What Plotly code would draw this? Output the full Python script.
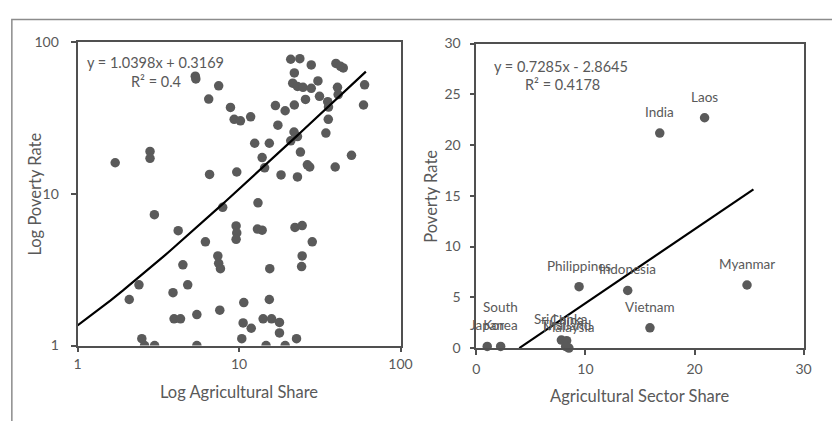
import numpy as np
import plotly.graph_objects as go

# ---------------- Data ----------------
# Left panel: log-log scatter (agricultural share vs poverty rate)
log_ag_share = [1.71, 2.81, 2.81, 2.99, 2.40, 2.09, 2.5, 2.6, 3.0, 3.9, 3.96, 4.34, 4.2, 4.49, 4.81,
                5.36, 5.4, 5.48, 5.48, 6.19, 6.49, 6.57, 7.48, 7.39, 7.48, 7.67, 7.92, 7.6, 8.85,
                9.33, 10.2, 9.68, 9.59, 9.68, 9.59, 10.7, 10.6, 10.4, 11.9, 11.8, 12.5, 13.1, 13.0,
                13.9, 13.9, 14.4, 14.1, 15.9, 14.7, 15.4, 15.5, 15.4, 16.8, 17.4, 17.8, 17.8, 18.2,
                19.3, 19.3, 20.9, 23.8, 22.0, 21.5, 22.0, 23.0, 24.9, 28.0, 28.0, 30.8, 25.8, 31.5,
                20.9, 21.9, 23.0, 23.0, 24.0, 26.5, 27.4, 22.2, 24.6, 24.6, 24.4, 28.4, 22.7, 34.5,
                35.7, 35.4, 35.8, 39.8, 44.2, 40.7, 41.1, 39.4, 49.7, 59.9, 59.0, 42.5]
log_poverty = [16.0, 19.0, 17.1, 7.28, 2.51, 2.01, 1.11, 1.0, 1.0, 2.23, 1.50, 1.50, 5.71, 3.40, 2.51,
               59.5, 57.0, 1.60, 1.0, 4.82, 42.0, 13.4, 51.4, 3.89, 3.48, 3.21, 8.14, 1.71, 37.0,
               30.9, 30.2, 13.9, 6.14, 5.52, 5.01, 1.92, 1.41, 1.11, 1.30, 32.1, 21.5, 8.71, 5.85,
               5.75, 17.3, 14.8, 1.50, 1.50, 1.0, 21.5, 3.21, 2.01, 38.1, 28.3, 1.42, 1.21, 13.3,
               35.2, 1.0, 76.9, 77.6, 62.5, 53.5, 38.4, 50.9, 50.2, 49.5, 70.5, 55.3, 41.8, 43.8,
               22.3, 25.5, 23.8, 12.9, 18.8, 15.5, 15.0, 6.0, 6.17, 3.89, 3.31, 4.82, 1.11, 25.1,
               30.9, 40.4, 37.2, 72.2, 67.4, 50.2, 45.0, 15.0, 17.9, 52.2, 38.4, 69.0]
left_slope, left_intercept = 1.0398, 0.3169
left_trend_range = [1.0, 61.0]

# Right panel: Asian countries
countries = ["Japan", "South<br>Korea", "Sri Lanka", "China", "Thailand", "Malaysia",
             "Philippines", "Indonesia", "Vietnam", "India", "Laos", "Myanmar"]
ag_share = [0.99, 2.22, 7.79, 8.27, 8.18, 8.48, 9.41, 13.87, 15.91, 16.81, 20.92, 24.81]
poverty = [0.16, 0.16, 0.79, 0.72, 0.16, 0.0, 6.05, 5.67, 1.99, 21.18, 22.69, 6.21]
right_slope, right_intercept = 0.7285, -2.8645
right_trend_range = [3.93, 25.4]

left_ticks = [1, 10, 100]
right_ticks = [0, 5, 10, 15, 20, 25, 30]
right_xticks = [0, 10, 20, 30]

# ---------------- Styling ----------------
FONT = "Lato"
GREY = "#595959"
AXIS = "#505050"
W, H = 832, 421

fig = go.Figure()

# left scatter
fig.add_trace(go.Scatter(x=log_ag_share, y=log_poverty, mode="markers",
                         marker=dict(size=9.5, color="#5a5a5a"),
                         xaxis="x", yaxis="y", showlegend=False))
lx = np.linspace(left_trend_range[0], left_trend_range[1], 200)
fig.add_trace(go.Scatter(x=lx, y=left_slope * lx + left_intercept, mode="lines",
                         line=dict(color="black", width=2.2),
                         xaxis="x", yaxis="y", showlegend=False))

# right scatter
fig.add_trace(go.Scatter(x=ag_share, y=poverty, mode="markers",
                         marker=dict(size=9.5, color="#5a5a5a"),
                         xaxis="x2", yaxis="y2", showlegend=False, cliponaxis=False))
rx = np.array(right_trend_range)
fig.add_trace(go.Scatter(x=rx, y=right_slope * rx + right_intercept, mode="lines",
                         line=dict(color="black", width=2.2),
                         xaxis="x2", yaxis="y2", showlegend=False))

def px_x(p):
    return p / W

def px_y(p):
    return 1 - p / H

axis_common = dict(showgrid=False, zeroline=False, showline=True, linecolor=AXIS, linewidth=1.8,
                   mirror=True, ticks="outside", ticklen=5, tickcolor=AXIS, tickwidth=1.5,
                   tickfont=dict(family=FONT, size=14, color=GREY))

fig.update_layout(
    width=W, height=H, margin=dict(l=0, r=0, t=0, b=0),
    paper_bgcolor="white", plot_bgcolor="white",
    xaxis=dict(type="log", range=[0, 2], domain=[px_x(75), px_x(404.3)], anchor="y",
               tickvals=left_ticks, ticktext=[str(t) for t in left_ticks],
               ticklabelstandoff=0, **axis_common),
    yaxis=dict(type="log", range=[0, 2], domain=[px_y(350.7), px_y(34.3)], anchor="x",
               tickvals=left_ticks, ticktext=[str(t) for t in left_ticks],
               ticklabelstandoff=9, **axis_common),
    xaxis2=dict(range=[0, 30], domain=[px_x(481.7), px_x(815.3)], anchor="y2",
                tickvals=right_xticks, ticklabelstandoff=2, **axis_common),
    yaxis2=dict(range=[0, 30], domain=[px_y(353.3), px_y(36)], anchor="x2",
                tickvals=right_ticks, ticklabelstandoff=6, **axis_common),
)

annotations = []
# data labels on right panel
for c, x, y in zip(countries, ag_share, poverty):
    annotations.append(dict(x=x, y=y, xref="x2", yref="y2", text=c, showarrow=False,
                            yanchor="bottom", yshift=11,
                            font=dict(family=FONT, size=13.5, color=GREY)))

def txt(x, y, s, size=14.5, angle=0):
    return dict(x=px_x(x), y=px_y(y), xref="paper", yref="paper", text=s, showarrow=False,
                xanchor="center", yanchor="middle", textangle=angle,
                font=dict(family=FONT, size=size, color=GREY))

annotations += [
    txt(154, 56, "y = 1.0398x + 0.3169"),
    txt(155, 76, "R² = 0.4"),
    txt(568, 60, "y = 0.7285x - 2.8645"),
    txt(569, 79, "R² = 0.4178"),
    txt(240, 399, "Log Agricultural Share", size=16.5),
    txt(32, 193, "Log Poverty Rate", size=16.5, angle=-90),
    txt(648, 403, "Agricultural Sector Share", size=16.5),
    txt(436, 195, "Poverty Rate", size=16.5, angle=-90),
]
fig.update_layout(annotations=annotations)

# outer chart border (runs off the right and bottom edges)
fig.add_shape(type="rect", xref="paper", yref="paper",
              x0=px_x(8), x1=1.05, y0=-0.05, y1=px_y(11),
              line=dict(color="#8c8c8c", width=1.5), fillcolor="rgba(0,0,0,0)", layer="above")

fig.write_html("out.html", config={"displayModeBar": False},
               post_script="document.body.style.margin='0';document.body.style.padding='0';")
